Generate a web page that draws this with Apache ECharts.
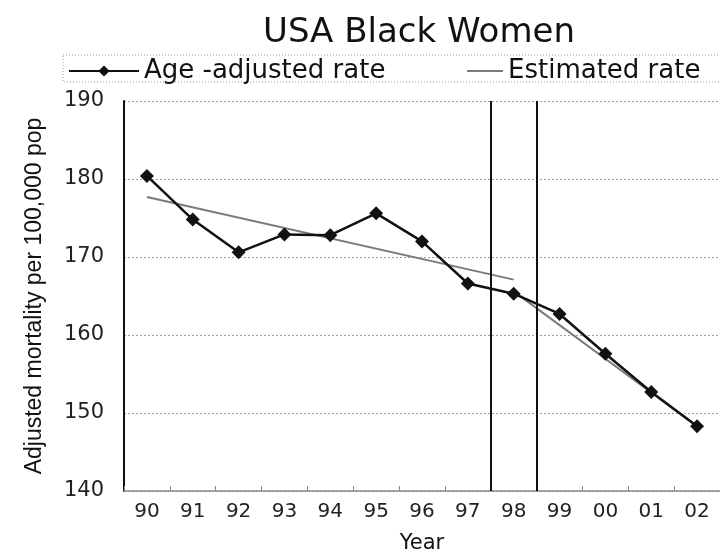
<!DOCTYPE html>
<html>
<head>
<meta charset="utf-8">
<script src="https://cdn.jsdelivr.net/npm/echarts@6/dist/echarts.min.js"></script>
<style>
  html, body { margin: 0; padding: 0; background: #fff; }
  #chart { width: 720px; height: 559px; }
</style>
</head>
<body>
<div id="chart"></div>
<script>
// Year labels (1990–2002)
const years = ['90', '91', '92', '93', '94', '95', '96', '97', '98', '99', '00', '01', '02'];
// Age-adjusted mortality per 100,000 population
const ageAdjusted = [180.4, 174.8, 170.6, 172.9, 172.8, 175.6, 172.0, 166.6, 165.3, 162.7, 157.6, 152.7, 148.3];
// Estimated (trend) rate: two fitted segments, given as [year index, rate]
const estimatedEarly = [[0, 177.7], [8, 167.1]];
const estimatedLate = [[8, 165.6], [12, 148.3]];
// Boundaries of the highlighted 1998 band (in year-index units)
const bandEdges = [7.5, 8.5];
// Y axis ticks
const yMin = 140, yMax = 190, yStep = 10;

const chart = echarts.init(document.getElementById('chart'), null, { renderer: 'canvas' });

const ageData = ageAdjusted.map((v, i) => [i, v]);

chart.setOption({
  backgroundColor: '#ffffff',
  animation: false,
  title: {
    text: 'USA Black Women',
    left: 414,
    textAlign: 'center',
    top: 11,
    textStyle: { fontFamily: 'DejaVu Sans', fontSize: 34, fontWeight: 'normal', color: '#111' }
  },
  graphic: [{
    type: 'rect',
    shape: { x: 63, y: 55, width: 700, height: 27 },
    style: { fill: 'none', stroke: '#9a9a9a', lineWidth: 1, lineDash: [1, 2] },
    silent: true
  }],
  legend: [{
    data: ['Age-adjusted rate'],
    formatter: () => 'Age -adjusted rate',
    left: 63,
    top: 53,
    itemWidth: 70,
    itemHeight: 14,
    textStyle: { fontFamily: 'DejaVu Sans', fontSize: 26, color: '#111' }
  }, {
    data: [{ name: 'Estimated rate', icon: 'rect' }],
    left: 462,
    top: 53,
    itemWidth: 36,
    itemHeight: 2,
    textStyle: { fontFamily: 'DejaVu Sans', fontSize: 26, color: '#111' }
  }],
  grid: { left: 124, top: 101, width: 601, height: 392, containLabel: false },
  xAxis: [{
    type: 'category',
    data: years,
    name: 'Year',
    nameLocation: 'middle',
    nameGap: 42,
    nameTextStyle: { fontFamily: 'DejaVu Sans', fontSize: 21, color: '#111' },
    axisLine: { lineStyle: { color: '#8a8a8a', width: 1.5 } },
    axisTick: { show: true, inside: true, length: 5, lineStyle: { color: '#8a8a8a' } },
    axisLabel: { fontFamily: 'DejaVu Sans', fontSize: 20, color: '#222', margin: 11 },
    splitLine: { show: false }
  }, {
    type: 'value',
    min: -0.5,
    max: 12.5,
    show: false
  }],
  yAxis: {
    type: 'value',
    min: yMin,
    max: yMax,
    interval: yStep,
    name: 'Adjusted mortality per 100,000 pop',
    nameLocation: 'middle',
    nameGap: 78,
    nameRotate: 90,
    nameTextStyle: { fontFamily: 'Liberation Sans', fontSize: 23, color: '#111' },
    axisLine: { show: true, onZero: false, lineStyle: { color: '#111', width: 2 } },
    axisTick: { show: false },
    axisLabel: { fontFamily: 'DejaVu Sans', fontSize: 21, color: '#222', margin: 20 },
    splitLine: { show: true, lineStyle: { color: '#9a9a9a', width: 1, type: [2, 2] } }
  },
  series: [{
    name: 'Estimated rate',
    type: 'line',
    xAxisIndex: 1,
    data: estimatedEarly,
    symbol: 'none',
    lineStyle: { color: '#7a7a7a', width: 2 },
    itemStyle: { color: '#7a7a7a' },
    z: 2
  }, {
    name: 'Estimated rate',
    type: 'line',
    xAxisIndex: 1,
    data: estimatedLate,
    symbol: 'none',
    lineStyle: { color: '#7a7a7a', width: 2 },
    itemStyle: { color: '#7a7a7a' },
    z: 2,
    markLine: {
      silent: true,
      symbol: ['none', 'none'],
      label: { show: false },
      lineStyle: { color: '#111', width: 2, type: 'solid' },
      data: bandEdges.map(x => ({ xAxis: x }))
    }
  }, {
    name: 'Age-adjusted rate',
    type: 'line',
    xAxisIndex: 1,
    data: ageData,
    symbol: 'diamond',
    symbolSize: 14,
    lineStyle: { color: '#111', width: 2.5 },
    itemStyle: { color: '#111' },
    z: 3
  }]
});
</script>
</body>
</html>
